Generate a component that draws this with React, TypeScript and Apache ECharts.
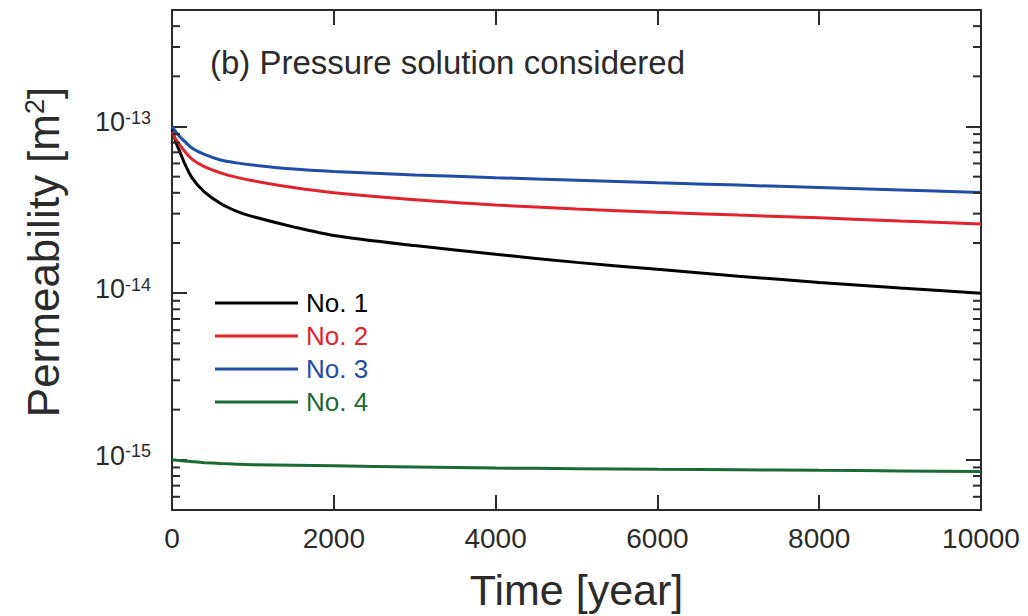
import React, { useEffect, useRef } from "react";
import * as echarts from "echarts";

// ---- data ----
const TIMES = [0, 25, 50, 100, 150, 250, 400, 600, 800, 1000, 1500, 2000, 3000, 4000, 5000, 6000, 7000, 8000, 9000, 10000];
const NO1 = [9.6e-14, 8.8e-14, 8.0e-14, 7.0e-14, 6.1e-14, 4.9e-14, 4.05e-14, 3.45e-14, 3.1e-14, 2.88e-14, 2.5e-14, 2.22e-14, 1.93e-14, 1.71e-14, 1.53e-14, 1.39e-14, 1.265e-14, 1.16e-14, 1.075e-14, 1.0e-14];
const NO2 = [9.3e-14, 8.75e-14, 8.35e-14, 7.7e-14, 7.15e-14, 6.35e-14, 5.75e-14, 5.27e-14, 4.95e-14, 4.72e-14, 4.3e-14, 4.0e-14, 3.63e-14, 3.38e-14, 3.2e-14, 3.06e-14, 2.94e-14, 2.83e-14, 2.71e-14, 2.6e-14];
const NO3 = [1.0e-13, 9.6e-14, 9.25e-14, 8.65e-14, 8.2e-14, 7.4e-14, 6.8e-14, 6.3e-14, 6.05e-14, 5.87e-14, 5.55e-14, 5.37e-14, 5.12e-14, 4.93e-14, 4.76e-14, 4.6e-14, 4.45e-14, 4.3e-14, 4.16e-14, 4.02e-14];
const NO4 = [1.0e-15, 9.98e-16, 9.95e-16, 9.9e-16, 9.85e-16, 9.75e-16, 9.62e-16, 9.5e-16, 9.42e-16, 9.35e-16, 9.27e-16, 9.2e-16, 9.05e-16, 8.93e-16, 8.85e-16, 8.78e-16, 8.72e-16, 8.65e-16, 8.58e-16, 8.5e-16];

const SERIES_NAMES = ["No. 1", "No. 2", "No. 3", "No. 4"];
const SERIES_VALUES = [NO1, NO2, NO3, NO4];
const SERIES_COLORS = ["#000000", "#e3232b", "#1f4ea6", "#1a6a36"];

const X_MIN = 0;
const X_MAX = 10000;
const X_INTERVAL = 2000;
const Y_MIN = 5e-16;
const Y_MAX = 5e-13;
const MINOR_DECADES = [1e-16, 1e-15, 1e-14, 1e-13];
const MINOR_MULTIPLES = [2, 3, 4, 5, 6, 7, 8, 9];

const TITLE = "(b) Pressure solution considered";
const X_NAME = "Time [year]";

const AXIS_COLOR = "#2b2b2b";
const TEXT_COLOR = "#2b2b2b";
const FONT = "Liberation Sans, Arial, sans-serif";

export default function App() {
  const ref = useRef<HTMLDivElement>(null);

  useEffect(() => {
    if (!ref.current) return;
    const chart = echarts.init(ref.current, undefined, { renderer: "svg" });

    const minorTicks: number[] = [];
    MINOR_DECADES.forEach((d) =>
      MINOR_MULTIPLES.forEach((m) => {
        const v = m * d;
        if (v > Y_MIN * 1.0001 && v < Y_MAX * 0.9999) minorTicks.push(v);
      })
    );

    const yFormatter = (v: number) => {
      const e = Math.round(Math.log10(v));
      if (Math.abs(v / Math.pow(10, e) - 1) > 1e-6) return "";
      return `{b|10}{s|${e}}`;
    };

    const lineSeries = SERIES_NAMES.map((name, i) => ({
      type: "line",
      name,
      xAxisIndex: 0,
      yAxisIndex: 0,
      data: TIMES.map((t, j) => [t, SERIES_VALUES[i][j]]),
      showSymbol: false,
      symbol: "none",
      smooth: 0.3,
      lineStyle: { color: SERIES_COLORS[i], width: 3 },
      itemStyle: { color: SERIES_COLORS[i] },
      z: 2,
    }));

    const option: any = {
      animation: false,
      backgroundColor: "#ffffff",
      textStyle: { fontFamily: FONT },
      title: {
        text: TITLE,
        left: 210,
        top: 46,
        padding: 0,
        textStyle: { fontFamily: FONT, fontSize: 33, fontWeight: "normal", color: TEXT_COLOR },
      },
      legend: {
        orient: "vertical",
        left: 215,
        top: 290,
        padding: 0,
        icon: "rect",
        itemWidth: 83,
        itemHeight: 3,
        itemGap: 7,
        selectedMode: false,
        data: SERIES_NAMES.map((n, i) => ({
          name: n,
          itemStyle: { color: SERIES_COLORS[i] },
          textStyle: { color: SERIES_COLORS[i] },
        })),
        textStyle: { fontFamily: FONT, fontSize: 26, lineHeight: 26, padding: [0, 0, 0, 3] },
      },
      grid: { left: 172, right: 47, top: 10, bottom: 106, containLabel: false },
      xAxis: [
        {
          type: "value",
          min: X_MIN,
          max: X_MAX,
          interval: X_INTERVAL,
          position: "bottom",
          name: X_NAME,
          nameLocation: "middle",
          nameGap: 58,
          nameTextStyle: { fontFamily: FONT, fontSize: 43, color: TEXT_COLOR },
          axisLine: { show: true, onZero: false, lineStyle: { color: AXIS_COLOR, width: 2 } },
          axisTick: { show: true, inside: true, length: 15, lineStyle: { color: AXIS_COLOR, width: 2 } },
          axisLabel: {
            show: true,
            margin: 14,
            fontSize: 28,
            color: TEXT_COLOR,
            fontFamily: FONT,
            formatter: (v: number) => String(v),
          },
          splitLine: { show: false },
        },
        {
          type: "value",
          min: X_MIN,
          max: X_MAX,
          interval: X_INTERVAL,
          position: "top",
          axisLine: { show: true, onZero: false, lineStyle: { color: AXIS_COLOR, width: 2 } },
          axisTick: { show: true, inside: true, length: 15, lineStyle: { color: AXIS_COLOR, width: 2 } },
          axisLabel: { show: false },
          splitLine: { show: false },
        },
      ],
      yAxis: [
        {
          type: "log",
          logBase: 10,
          min: Y_MIN,
          max: Y_MAX,
          position: "left",
          name: "{a|Permeability [m}{s|2}{a|]}",
          nameLocation: "middle",
          nameGap: 107,
          nameRotate: 90,
          nameTextStyle: {
            padding: [0, 0, 0, 16],
            rich: {
              a: { fontFamily: FONT, fontSize: 44, lineHeight: 44, color: TEXT_COLOR, verticalAlign: "bottom" },
              s: { fontFamily: FONT, fontSize: 27, lineHeight: 27, color: TEXT_COLOR, verticalAlign: "top" },
            },
          },
          axisLine: { show: true, onZero: false, lineStyle: { color: AXIS_COLOR, width: 2 } },
          axisTick: { show: true, inside: true, length: 15, lineStyle: { color: AXIS_COLOR, width: 2 } },
          axisLabel: {
            show: true,
            margin: 21,
            showMinLabel: false,
            showMaxLabel: false,
            formatter: yFormatter,
            padding: [0, 0, 8, 0],
            rich: {
              b: { fontFamily: FONT, fontSize: 27, lineHeight: 27, color: TEXT_COLOR, verticalAlign: "bottom" },
              s: { fontFamily: FONT, fontSize: 18, lineHeight: 18, color: TEXT_COLOR, verticalAlign: "top", padding: [0, 0, 20, 0] },
            },
          },
          splitLine: { show: false },
        },
        {
          type: "log",
          logBase: 10,
          min: Y_MIN,
          max: Y_MAX,
          position: "right",
          axisLine: { show: true, onZero: false, lineStyle: { color: AXIS_COLOR, width: 2 } },
          axisTick: { show: true, inside: true, length: 15, lineStyle: { color: AXIS_COLOR, width: 2 } },
          axisLabel: { show: false },
          splitLine: { show: false },
        },
      ],
      series: [
        ...lineSeries,
        {
          type: "custom",
          name: "minor-ticks",
          silent: true,
          xAxisIndex: 0,
          yAxisIndex: 0,
          data: minorTicks.map((v) => [X_MIN, v]),
          renderItem: (params: any, api: any) => {
            const v = api.value(1);
            const l = api.coord([X_MIN, v]);
            const r = api.coord([X_MAX, v]);
            const st = { stroke: AXIS_COLOR, lineWidth: 2 };
            return {
              type: "group",
              children: [
                { type: "line", shape: { x1: l[0], y1: l[1], x2: l[0] + 8, y2: l[1] }, style: st },
                { type: "line", shape: { x1: r[0] - 8, y1: r[1], x2: r[0], y2: r[1] }, style: st },
              ],
            };
          },
          z: 3,
        },
      ],
    };

    chart.setOption(option);
    return () => chart.dispose();
  }, []);

  return (
    <div
      ref={ref}
      style={{ position: "fixed", left: 0, top: 0, width: 1028, height: 616, background: "#fff" }}
    />
  );
}
